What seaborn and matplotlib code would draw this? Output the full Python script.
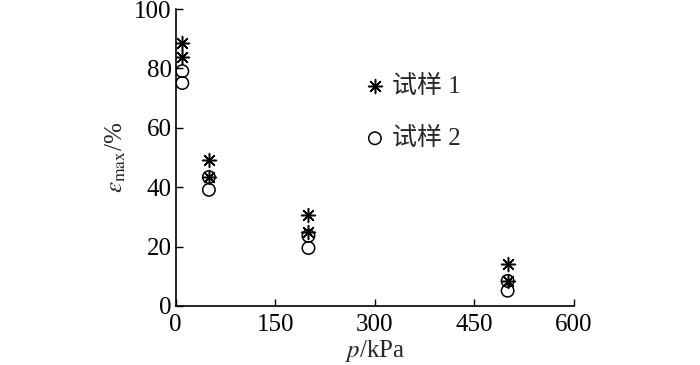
import seaborn as sns
import matplotlib.pyplot as plt

# readings taken off the reference figure
p_kpa = [10, 10, 50, 50, 200, 200, 500, 500]
sample1 = [88.5, 83.8, 49.2, 43.4, 30.6, 24.9, 14.1, 8.4]
sample2 = [79.1, 75.1, 43.4, 39.1, 23.6, 19.5, 8.4, 5.1]
labels = ['试样 1', '试样 2']
xticks = [0, 150, 300, 450, 600]
yticks = [0, 20, 40, 60, 80, 100]

sns.set_theme(style="ticks")
plt.rcParams['font.family'] = ['Liberation Serif', 'Noto Sans CJK SC']
plt.rcParams['mathtext.fontset'] = 'stix'

fig = plt.figure(figsize=(7, 3.65), dpi=100)
ax = fig.add_axes([0.251, 0.162, 0.569, 0.813])

sns.scatterplot(x=p_kpa, y=sample1, marker=(8, 2, 0), s=100, color='black',
                linewidth=1.1, label=labels[0], ax=ax)
sns.scatterplot(x=p_kpa, y=sample2, marker='o', s=80, facecolor='none',
                edgecolor='black', linewidth=1.1, label=labels[1], ax=ax)

ax.set_xlim(0, 600)
ax.set_ylim(0, 100)
ax.set_xticks(xticks)
ax.set_yticks(yticks)
ax.tick_params(direction='in', length=5, width=1, labelsize=18, colors='black',
               pad=3)
ax.tick_params(axis='x', pad=6)
for s in ['left', 'bottom']:
    ax.spines[s].set_linewidth(1.2)
    ax.spines[s].set_color('black')
sns.despine(ax=ax)

ax.set_xlabel(r'$p$/kPa', fontsize=18, labelpad=1)
ax.set_ylabel(r'$\varepsilon_{\rm max}$/%', fontsize=18, labelpad=4)

leg = ax.legend(loc='upper left', bbox_to_anchor=(0.475, 0.778), frameon=False,
                fontsize=18, handletextpad=0.3, labelspacing=1.15,
                borderpad=0, borderaxespad=0, handlelength=0.8)
leg.legend_handles[1].set_facecolor('none')
leg.legend_handles[1].set_edgecolor('black')

fig.savefig('out.png', dpi=100)
